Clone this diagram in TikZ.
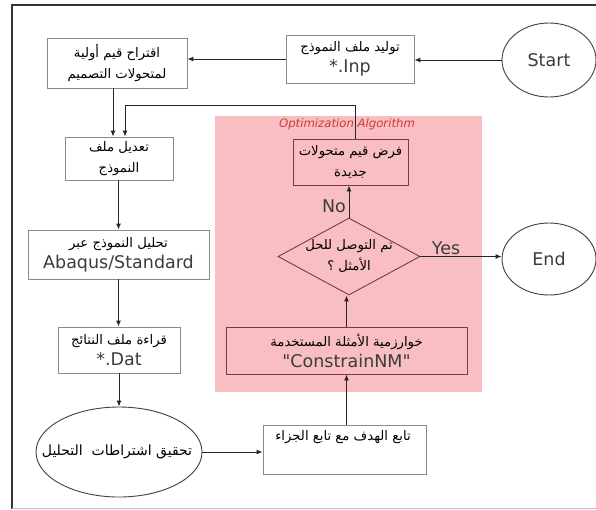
\documentclass[tikz,border=0pt]{standalone}
\usepackage{fontspec}
\setmainfont{DejaVu Sans}
\newfontfamily\latinfont{DejaVu Sans}
\newfontfamily\arabicfont[Script=Arabic]{DejaVu Sans}
\TeXXeTstate=1
\usetikzlibrary{shapes.geometric,arrows.meta}
\definecolor{boxgray}{HTML}{8A8A8A}
\definecolor{pinkbg}{HTML}{F8BEC2}
\definecolor{darkred}{HTML}{7A3A40}
\definecolor{txtgray}{HTML}{3C3C3C}
\definecolor{optred}{HTML}{D03A3A}
\newcommand{\artxt}[1]{{\arabicfont\fontsize{13.2}{16}\selectfont\beginR #1\endR}}
\newcommand{\latxt}[1]{{\latinfont\fontsize{17.5}{20}\selectfont\color{txtgray}#1}}
\begin{document}
\begin{tikzpicture}[x=1pt,y=-1pt,
  box/.style={draw=boxgray, line width=0.9pt, inner sep=0pt, align=center, font=\fontsize{13}{21}\selectfont},
  pbox/.style={draw=darkred, line width=0.9pt, inner sep=0pt, align=center, font=\fontsize{13}{21}\selectfont},
  oval/.style={ellipse, draw=black!75, line width=0.9pt, inner sep=0pt, align=center},
  arr/.style={draw=black!85, line width=1pt, -{Latex[length=6pt,width=5pt]}},
  lbl/.style={inner sep=0pt, font=\latinfont\fontsize{17.5}{20}\selectfont, text=txtgray}
]
\useasboundingbox (0,0) rectangle (596,509);
\fill[white] (0,0) rectangle (596,509);
% frame
\draw[black!80, line width=1.3pt] (12,509) -- (12,5) -- (596,5);
\draw[black!25, line width=0.6pt] (12,508) -- (596,508);
% optimization region
\fill[pinkbg] (215,116) rectangle (482,392);
\node[inner sep=0pt, text=optred, font=\latinfont\fontsize{11.7}{12}\itshape] (optlbl) at (347,124) {Optimization Algorithm};

% nodes
\node[oval, minimum width=94, minimum height=74] (start) at (549,60) {\latxt{Start}};
\node[box, minimum width=128, minimum height=48] (gen) at (350,59) {\artxt{توليد ملف النموذج}\\\latxt{*.Inp}};
\node[box, minimum width=140, minimum height=50] (init) at (117,63) {\artxt{اقتراح قيم أولية}\\\artxt{لمتحولات التصميم}};
\node[box, minimum width=108, minimum height=43] (tadil) at (119,158.5) {\artxt{تعديل ملف}\\\artxt{النموذج}};
\node[box, minimum width=181, minimum height=49] (abaqus) at (118.5,254.5) {\artxt{تحليل النموذج عبر}\\\latxt{Abaqus/Standard}};
\node[box, minimum width=122, minimum height=46] (dat) at (119,350) {\artxt{قراءة ملف النتائج}\\\latxt{*.Dat}};
\node[oval, minimum width=166, minimum height=90] (check) at (119,452) {};
\node[inner sep=0pt] (checktxt) at (117,452) {{\arabicfont\fontsize{14}{16}\selectfont\beginR تحقيق اشتراطات \ التحليل\endR}};
\node[box, minimum width=163, minimum height=49] (obj) at (344.5,449.5) {};
\node[inner sep=0pt] (objtxt) at (343,437) {\artxt{تابع الهدف مع تابع الجزاء}};
\node[pbox, minimum width=241, minimum height=47] (algo) at (346.5,350.5) {\artxt{خوارزمية الأمثلة المستخدمة}\\\latxt{"ConstrainNM"}};
\node[diamond, draw=darkred, line width=0.9pt, inner sep=0pt, minimum width=142, minimum height=77] (dec) at (349,256.5) {};
\node[inner sep=0pt, align=center, font=\fontsize{13}{21}\selectfont] (dectxt) at (349,256) {\artxt{تم التوصل للحل}\\\artxt{الأمثل ؟}};
\node[pbox, minimum width=115, minimum height=46] (fard) at (350.5,162) {\artxt{فرض قيم متحولات}\\\artxt{جديدة}};
\node[oval, minimum width=94, minimum height=72] (end) at (549,259) {\latxt{End}};

% labels
\node[lbl] (no) at (334,206) {No};
\node[lbl] (yes) at (446,248) {Yes};

% coordinates for the feedback loop
\coordinate (fb1) at (355,105);
\coordinate (fb2) at (125,105);
\coordinate (inA) at (113,0);

% connectors
\draw[arr] (start.west) -- (gen.east |- start.west);
\draw[arr] (gen.west) -- (init.east |- gen.west);
\draw[arr] (init.south -| inA) -- (tadil.north -| inA);
\draw[arr] (fard.north -| fb1) -- (fb1) -- (fb2) -- (tadil.north -| fb2);
\draw[arr] (tadil.south -| abaqus.north) -- (abaqus.north);
\draw[arr] (abaqus.south) -- (dat.north -| abaqus.south);
\draw[arr] (dat.south) -- (check.north);
\draw[arr] (check.east) -- (obj.west |- check.east);
\draw[arr] (obj.north -| algo.south) -- (algo.south);
\draw[arr] (algo.north) -- (dec.south -| algo.north);
\draw[arr] (dec.north) -- (fard.south -| dec.north);
\draw[arr] (dec.east) -- (end.west |- dec.east);
\end{tikzpicture}
\end{document}
